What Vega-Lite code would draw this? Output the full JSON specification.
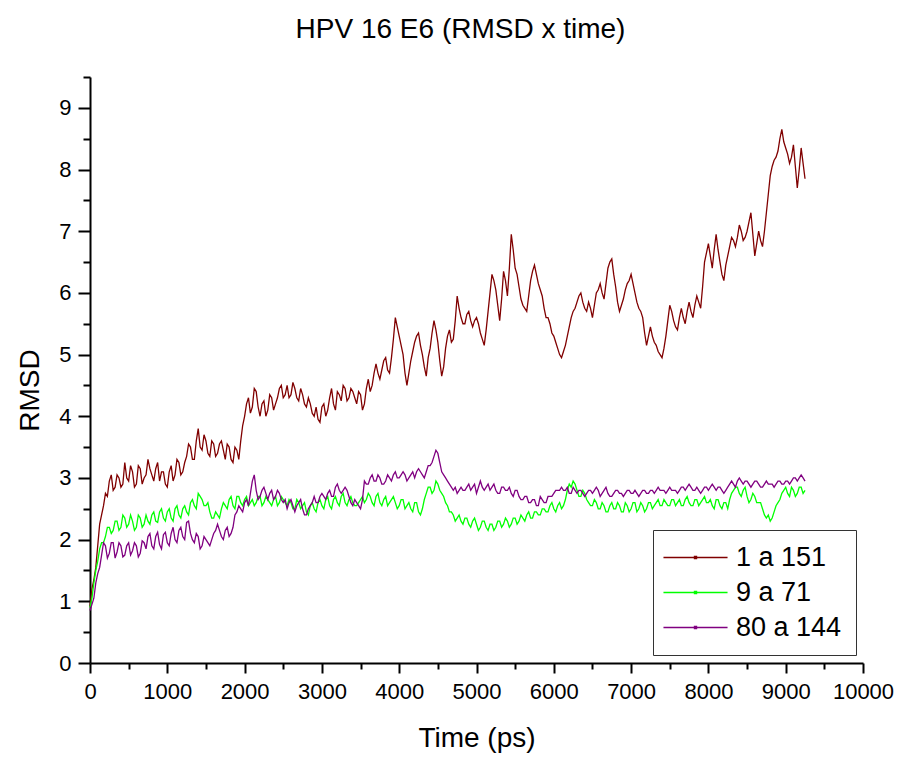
{
  "$schema": "https://vega.github.io/schema/vega-lite/v6.json",
  "autosize": {"type": "none"},
  "padding": {"left": 90, "top": 77, "right": 36, "bottom": 95},
  "width": 773,
  "height": 586,
  "background": "white",
  "title": {"text": "HPV 16 E6 (RMSD x time)", "font": "Liberation Sans", "fontSize": 28, "fontWeight": "normal", "color": "black", "baseline": "alphabetic", "offset": 0, "dx": -16},
  "config": {
    "view": {"stroke": null},
    "axis": {"grid": false, "domainColor": "black", "domainWidth": 2, "tickColor": "black", "tickWidth": 2, "labelFont": "Liberation Sans", "labelFontSize": 22, "labelColor": "black", "titleFont": "Liberation Sans", "titleFontSize": 28, "titleFontWeight": "normal", "titleColor": "black", "labelOverlap": false, "labelFlush": false}
  },
  "data": {"values": [
{"t":0,"a":0.92,"b":0.9,"c":0.85},
{"t":50,"a":1.35,"b":1.3,"c":1.05},
{"t":100,"a":1.9,"b":1.65,"c":1.45},
{"t":150,"a":2.4,"b":1.95,"c":1.75},
{"t":200,"a":2.75,"b":2.05,"c":1.9},
{"t":250,"a":2.95,"b":2.2,"c":1.78},
{"t":300,"a":2.8,"b":2.15,"c":1.95},
{"t":350,"a":3.05,"b":2.3,"c":1.8},
{"t":400,"a":2.85,"b":2.2,"c":1.9},
{"t":450,"a":3.25,"b":2.35,"c":1.75},
{"t":500,"a":2.95,"b":2.25,"c":1.95},
{"t":550,"a":3.1,"b":2.3,"c":1.82},
{"t":600,"a":2.9,"b":2.2,"c":1.9},
{"t":650,"a":3.15,"b":2.35,"c":1.78},
{"t":700,"a":3.0,"b":2.25,"c":1.95},
{"t":750,"a":3.3,"b":2.3,"c":2.05},
{"t":800,"a":3.05,"b":2.4,"c":1.9},
{"t":850,"a":3.15,"b":2.3,"c":2.05},
{"t":900,"a":2.95,"b":2.45,"c":1.92},
{"t":950,"a":3.1,"b":2.35,"c":2.08},
{"t":1000,"a":2.85,"b":2.45,"c":1.95},
{"t":1050,"a":3.2,"b":2.35,"c":2.1},
{"t":1100,"a":3.05,"b":2.5,"c":2.0},
{"t":1150,"a":3.25,"b":2.4,"c":2.15},
{"t":1200,"a":3.1,"b":2.5,"c":2.05},
{"t":1250,"a":3.35,"b":2.45,"c":2.28},
{"t":1300,"a":3.5,"b":2.6,"c":2.1},
{"t":1350,"a":3.3,"b":2.55,"c":1.95},
{"t":1400,"a":3.8,"b":2.75,"c":2.05},
{"t":1450,"a":3.45,"b":2.65,"c":1.9},
{"t":1500,"a":3.6,"b":2.55,"c":2.0},
{"t":1550,"a":3.35,"b":2.45,"c":1.9},
{"t":1600,"a":3.55,"b":2.35,"c":2.1},
{"t":1650,"a":3.4,"b":2.4,"c":2.25},
{"t":1700,"a":3.6,"b":2.5,"c":2.05},
{"t":1750,"a":3.3,"b":2.55,"c":2.15},
{"t":1800,"a":3.5,"b":2.65,"c":2.05},
{"t":1850,"a":3.25,"b":2.55,"c":2.2},
{"t":1900,"a":3.45,"b":2.7,"c":2.45},
{"t":1950,"a":3.6,"b":2.6,"c":2.5},
{"t":2000,"a":4.0,"b":2.65,"c":2.6},
{"t":2050,"a":4.3,"b":2.55,"c":2.55},
{"t":2100,"a":4.15,"b":2.65,"c":2.95},
{"t":2150,"a":4.4,"b":2.6,"c":2.8},
{"t":2200,"a":4.0,"b":2.7,"c":2.7},
{"t":2250,"a":4.25,"b":2.6,"c":2.85},
{"t":2300,"a":4.1,"b":2.65,"c":2.65},
{"t":2350,"a":4.3,"b":2.55,"c":2.8},
{"t":2400,"a":4.2,"b":2.7,"c":2.7},
{"t":2450,"a":4.45,"b":2.6,"c":2.75},
{"t":2500,"a":4.3,"b":2.65,"c":2.6},
{"t":2550,"a":4.5,"b":2.55,"c":2.5},
{"t":2600,"a":4.35,"b":2.6,"c":2.65},
{"t":2650,"a":4.45,"b":2.5,"c":2.45},
{"t":2700,"a":4.25,"b":2.6,"c":2.6},
{"t":2750,"a":4.35,"b":2.55,"c":2.5},
{"t":2800,"a":4.15,"b":2.45,"c":2.4},
{"t":2850,"a":4.2,"b":2.55,"c":2.55},
{"t":2900,"a":4.0,"b":2.5,"c":2.7},
{"t":2950,"a":3.95,"b":2.6,"c":2.6},
{"t":3000,"a":4.15,"b":2.55,"c":2.75},
{"t":3050,"a":4.0,"b":2.65,"c":2.65},
{"t":3100,"a":4.3,"b":2.55,"c":2.8},
{"t":3150,"a":4.2,"b":2.65,"c":2.7},
{"t":3200,"a":4.4,"b":2.6,"c":2.9},
{"t":3250,"a":4.25,"b":2.7,"c":2.75},
{"t":3300,"a":4.45,"b":2.6,"c":2.85},
{"t":3350,"a":4.3,"b":2.65,"c":2.7},
{"t":3400,"a":4.4,"b":2.6,"c":2.55},
{"t":3450,"a":4.2,"b":2.55,"c":2.6},
{"t":3500,"a":4.35,"b":2.65,"c":2.5},
{"t":3550,"a":4.2,"b":2.6,"c":2.95},
{"t":3600,"a":4.6,"b":2.75,"c":2.9},
{"t":3650,"a":4.5,"b":2.6,"c":3.05},
{"t":3700,"a":4.85,"b":2.7,"c":2.95},
{"t":3750,"a":4.6,"b":2.6,"c":3.0},
{"t":3800,"a":4.9,"b":2.65,"c":2.9},
{"t":3850,"a":4.75,"b":2.55,"c":3.05},
{"t":3900,"a":4.95,"b":2.65,"c":2.95},
{"t":3950,"a":5.6,"b":2.6,"c":3.1},
{"t":4000,"a":5.3,"b":2.55,"c":3.0},
{"t":4050,"a":5.0,"b":2.65,"c":3.1},
{"t":4100,"a":4.5,"b":2.55,"c":2.95},
{"t":4150,"a":4.9,"b":2.5,"c":3.05},
{"t":4200,"a":5.2,"b":2.6,"c":3.0},
{"t":4250,"a":5.35,"b":2.45,"c":3.15},
{"t":4300,"a":5.0,"b":2.5,"c":3.05},
{"t":4350,"a":4.65,"b":2.75,"c":3.1},
{"t":4400,"a":5.1,"b":2.85,"c":3.2},
{"t":4450,"a":5.55,"b":2.8,"c":3.35},
{"t":4500,"a":5.2,"b":2.9,"c":3.4},
{"t":4550,"a":4.65,"b":2.75,"c":3.1},
{"t":4600,"a":5.1,"b":2.6,"c":3.0},
{"t":4650,"a":5.4,"b":2.45,"c":2.9},
{"t":4700,"a":5.25,"b":2.4,"c":2.8},
{"t":4750,"a":5.95,"b":2.35,"c":2.75},
{"t":4800,"a":5.6,"b":2.3,"c":2.85},
{"t":4850,"a":5.5,"b":2.35,"c":2.8},
{"t":4900,"a":5.7,"b":2.25,"c":2.9},
{"t":4950,"a":5.45,"b":2.3,"c":2.85},
{"t":5000,"a":5.6,"b":2.25,"c":2.75},
{"t":5050,"a":5.35,"b":2.2,"c":2.95},
{"t":5100,"a":5.15,"b":2.3,"c":2.8},
{"t":5150,"a":5.7,"b":2.15,"c":2.9},
{"t":5200,"a":6.3,"b":2.25,"c":2.85},
{"t":5250,"a":6.05,"b":2.2,"c":2.8},
{"t":5300,"a":5.55,"b":2.3,"c":2.75},
{"t":5350,"a":6.35,"b":2.25,"c":2.85},
{"t":5400,"a":5.95,"b":2.3,"c":2.8},
{"t":5450,"a":6.95,"b":2.25,"c":2.75},
{"t":5500,"a":6.4,"b":2.35,"c":2.8},
{"t":5550,"a":6.1,"b":2.3,"c":2.7},
{"t":5600,"a":5.8,"b":2.35,"c":2.65},
{"t":5650,"a":5.7,"b":2.4,"c":2.7},
{"t":5700,"a":6.2,"b":2.35,"c":2.6},
{"t":5750,"a":6.45,"b":2.45,"c":2.65},
{"t":5800,"a":6.15,"b":2.4,"c":2.55},
{"t":5850,"a":5.95,"b":2.5,"c":2.65},
{"t":5900,"a":5.6,"b":2.45,"c":2.6},
{"t":5950,"a":5.5,"b":2.55,"c":2.7},
{"t":6000,"a":5.3,"b":2.5,"c":2.75},
{"t":6050,"a":5.1,"b":2.55,"c":2.8},
{"t":6100,"a":4.95,"b":2.5,"c":2.85},
{"t":6150,"a":5.15,"b":2.65,"c":2.8},
{"t":6200,"a":5.45,"b":2.9,"c":2.75},
{"t":6250,"a":5.7,"b":2.95,"c":2.85},
{"t":6300,"a":5.85,"b":2.8,"c":2.75},
{"t":6350,"a":6.0,"b":2.7,"c":2.8},
{"t":6400,"a":5.75,"b":2.75,"c":2.7},
{"t":6450,"a":5.85,"b":2.6,"c":2.8},
{"t":6500,"a":5.6,"b":2.55,"c":2.75},
{"t":6550,"a":6.0,"b":2.6,"c":2.85},
{"t":6600,"a":6.15,"b":2.5,"c":2.7},
{"t":6650,"a":5.9,"b":2.55,"c":2.8},
{"t":6700,"a":6.4,"b":2.45,"c":2.75},
{"t":6750,"a":6.55,"b":2.6,"c":2.7},
{"t":6800,"a":6.1,"b":2.5,"c":2.8},
{"t":6850,"a":5.7,"b":2.55,"c":2.75},
{"t":6900,"a":5.9,"b":2.45,"c":2.7},
{"t":6950,"a":6.15,"b":2.55,"c":2.8},
{"t":7000,"a":6.3,"b":2.5,"c":2.75},
{"t":7050,"a":6.0,"b":2.6,"c":2.8},
{"t":7100,"a":5.75,"b":2.5,"c":2.7},
{"t":7150,"a":5.6,"b":2.55,"c":2.8},
{"t":7200,"a":5.15,"b":2.5,"c":2.75},
{"t":7250,"a":5.45,"b":2.6,"c":2.8},
{"t":7300,"a":5.2,"b":2.55,"c":2.75},
{"t":7350,"a":5.05,"b":2.65,"c":2.85},
{"t":7400,"a":4.95,"b":2.55,"c":2.8},
{"t":7450,"a":5.3,"b":2.6,"c":2.75},
{"t":7500,"a":5.8,"b":2.55,"c":2.85},
{"t":7550,"a":5.55,"b":2.65,"c":2.8},
{"t":7600,"a":5.4,"b":2.6,"c":2.75},
{"t":7650,"a":5.75,"b":2.55,"c":2.85},
{"t":7700,"a":5.5,"b":2.65,"c":2.8},
{"t":7750,"a":5.85,"b":2.6,"c":2.9},
{"t":7800,"a":5.6,"b":2.55,"c":2.8},
{"t":7850,"a":5.95,"b":2.65,"c":2.85},
{"t":7900,"a":5.75,"b":2.6,"c":2.75},
{"t":7950,"a":6.5,"b":2.7,"c":2.85},
{"t":8000,"a":6.8,"b":2.6,"c":2.8},
{"t":8050,"a":6.4,"b":2.55,"c":2.9},
{"t":8100,"a":6.95,"b":2.65,"c":2.8},
{"t":8150,"a":6.5,"b":2.55,"c":2.85},
{"t":8200,"a":6.2,"b":2.6,"c":2.75},
{"t":8250,"a":6.6,"b":2.5,"c":2.85},
{"t":8300,"a":6.9,"b":2.75,"c":2.95},
{"t":8350,"a":6.75,"b":2.85,"c":2.85},
{"t":8400,"a":7.1,"b":2.75,"c":3.0},
{"t":8450,"a":6.85,"b":2.8,"c":2.9},
{"t":8500,"a":7.0,"b":2.7,"c":2.95},
{"t":8550,"a":7.3,"b":2.65,"c":2.85},
{"t":8600,"a":6.6,"b":2.7,"c":2.95},
{"t":8650,"a":7.0,"b":2.6,"c":2.9},
{"t":8700,"a":6.75,"b":2.5,"c":2.85},
{"t":8750,"a":7.3,"b":2.35,"c":2.95},
{"t":8800,"a":7.9,"b":2.3,"c":2.9},
{"t":8850,"a":8.15,"b":2.45,"c":2.85},
{"t":8900,"a":8.3,"b":2.6,"c":2.95},
{"t":8950,"a":8.65,"b":2.75,"c":2.9},
{"t":9000,"a":8.35,"b":2.85,"c":2.95},
{"t":9050,"a":8.1,"b":2.7,"c":2.9},
{"t":9100,"a":8.4,"b":2.8,"c":3.0},
{"t":9150,"a":7.7,"b":2.75,"c":2.95},
{"t":9200,"a":8.35,"b":2.85,"c":3.05},
{"t":9250,"a":7.85,"b":2.8,"c":2.95},
{"t":25,"a":1.2,"b":1.05,"c":0.95},
{"t":75,"a":1.55,"b":1.5,"c":1.3},
{"t":125,"a":2.25,"b":1.85,"c":1.55},
{"t":175,"a":2.55,"b":1.95,"c":1.95},
{"t":225,"a":2.7,"b":2.2,"c":1.7},
{"t":275,"a":3.05,"b":2.1,"c":1.95},
{"t":325,"a":2.85,"b":2.3,"c":1.7},
{"t":375,"a":3.0,"b":2.15,"c":1.95},
{"t":425,"a":2.9,"b":2.4,"c":1.72},
{"t":475,"a":3.0,"b":2.2,"c":1.9},
{"t":525,"a":3.2,"b":2.4,"c":1.75},
{"t":575,"a":2.85,"b":2.15,"c":1.95},
{"t":625,"a":3.2,"b":2.4,"c":1.72},
{"t":675,"a":2.9,"b":2.2,"c":1.98},
{"t":725,"a":3.05,"b":2.4,"c":1.85},
{"t":775,"a":3.15,"b":2.25,"c":2.1},
{"t":825,"a":2.95,"b":2.45,"c":1.85},
{"t":875,"a":3.25,"b":2.28,"c":2.12},
{"t":925,"a":3.1,"b":2.5,"c":1.85},
{"t":975,"a":2.9,"b":2.3,"c":2.12},
{"t":1025,"a":3.1,"b":2.5,"c":1.9},
{"t":1075,"a":2.95,"b":2.3,"c":2.2},
{"t":1125,"a":3.3,"b":2.55,"c":1.95},
{"t":1175,"a":3.05,"b":2.35,"c":2.2},
{"t":1225,"a":3.25,"b":2.55,"c":2.0},
{"t":1275,"a":3.55,"b":2.4,"c":2.3},
{"t":1325,"a":3.3,"b":2.65,"c":2.0},
{"t":1375,"a":3.6,"b":2.5,"c":2.1},
{"t":1425,"a":3.5,"b":2.7,"c":1.85},
{"t":1475,"a":3.7,"b":2.55,"c":2.05},
{"t":1525,"a":3.4,"b":2.6,"c":1.95},
{"t":1575,"a":3.6,"b":2.35,"c":2.0},
{"t":1625,"a":3.35,"b":2.45,"c":2.15},
{"t":1675,"a":3.55,"b":2.35,"c":2.15},
{"t":1725,"a":3.45,"b":2.6,"c":2.0},
{"t":1775,"a":3.55,"b":2.5,"c":2.2},
{"t":1825,"a":3.3,"b":2.7,"c":2.1},
{"t":1875,"a":3.5,"b":2.5,"c":2.4},
{"t":1925,"a":3.3,"b":2.7,"c":2.55},
{"t":1975,"a":3.85,"b":2.55,"c":2.45},
{"t":2025,"a":4.2,"b":2.7,"c":2.65},
{"t":2075,"a":4.05,"b":2.6,"c":2.75},
{"t":2125,"a":4.45,"b":2.55,"c":3.05},
{"t":2175,"a":4.15,"b":2.7,"c":2.65},
{"t":2225,"a":4.2,"b":2.55,"c":2.8},
{"t":2275,"a":4.0,"b":2.7,"c":2.75},
{"t":2325,"a":4.35,"b":2.6,"c":2.75},
{"t":2375,"a":4.1,"b":2.65,"c":2.65},
{"t":2425,"a":4.3,"b":2.55,"c":2.8},
{"t":2475,"a":4.5,"b":2.7,"c":2.65},
{"t":2525,"a":4.35,"b":2.6,"c":2.65},
{"t":2575,"a":4.3,"b":2.65,"c":2.6},
{"t":2625,"a":4.55,"b":2.5,"c":2.55},
{"t":2675,"a":4.3,"b":2.65,"c":2.55},
{"t":2725,"a":4.45,"b":2.5,"c":2.65},
{"t":2775,"a":4.2,"b":2.6,"c":2.4},
{"t":2825,"a":4.3,"b":2.4,"c":2.5},
{"t":2875,"a":4.05,"b":2.6,"c":2.6},
{"t":2925,"a":4.15,"b":2.45,"c":2.6},
{"t":2975,"a":3.9,"b":2.65,"c":2.7},
{"t":3025,"a":4.2,"b":2.5,"c":2.7},
{"t":3075,"a":4.1,"b":2.7,"c":2.75},
{"t":3125,"a":4.45,"b":2.5,"c":2.7},
{"t":3175,"a":4.1,"b":2.7,"c":2.85},
{"t":3225,"a":4.35,"b":2.55,"c":2.8},
{"t":3275,"a":4.5,"b":2.75,"c":2.8},
{"t":3325,"a":4.25,"b":2.55,"c":2.8},
{"t":3375,"a":4.45,"b":2.7,"c":2.6},
{"t":3425,"a":4.3,"b":2.55,"c":2.65},
{"t":3475,"a":4.4,"b":2.6,"c":2.55},
{"t":3525,"a":4.1,"b":2.7,"c":2.65},
{"t":3575,"a":4.45,"b":2.65,"c":2.9},
{"t":3625,"a":4.4,"b":2.7,"c":3.0},
{"t":3675,"a":4.7,"b":2.55,"c":2.95},
{"t":3725,"a":4.7,"b":2.75,"c":3.05},
{"t":3775,"a":4.75,"b":2.55,"c":2.9},
{"t":3825,"a":4.95,"b":2.7,"c":2.95},
{"t":3875,"a":4.7,"b":2.6,"c":3.0},
{"t":3925,"a":5.25,"b":2.7,"c":3.05},
{"t":3975,"a":5.45,"b":2.5,"c":3.0},
{"t":4025,"a":5.15,"b":2.65,"c":3.05},
{"t":4075,"a":4.7,"b":2.5,"c":3.05},
{"t":4125,"a":4.7,"b":2.6,"c":3.0},
{"t":4175,"a":5.05,"b":2.45,"c":3.1},
{"t":4225,"a":5.3,"b":2.6,"c":3.1},
{"t":4275,"a":5.15,"b":2.4,"c":3.1},
{"t":4325,"a":4.8,"b":2.65,"c":3.0},
{"t":4375,"a":4.95,"b":2.85,"c":3.2},
{"t":4425,"a":5.35,"b":2.75,"c":3.25},
{"t":4475,"a":5.4,"b":2.95,"c":3.45},
{"t":4525,"a":4.9,"b":2.8,"c":3.25},
{"t":4575,"a":4.8,"b":2.7,"c":3.05},
{"t":4625,"a":5.3,"b":2.55,"c":2.95},
{"t":4675,"a":5.2,"b":2.45,"c":2.85},
{"t":4725,"a":5.55,"b":2.3,"c":2.85},
{"t":4775,"a":5.75,"b":2.4,"c":2.8},
{"t":4825,"a":5.5,"b":2.25,"c":2.8},
{"t":4875,"a":5.65,"b":2.35,"c":2.85},
{"t":4925,"a":5.55,"b":2.2,"c":2.8},
{"t":4975,"a":5.55,"b":2.35,"c":2.9},
{"t":5025,"a":5.5,"b":2.15,"c":2.85},
{"t":5075,"a":5.25,"b":2.3,"c":2.85},
{"t":5125,"a":5.4,"b":2.2,"c":2.85},
{"t":5175,"a":6.0,"b":2.25,"c":2.8},
{"t":5225,"a":6.2,"b":2.15,"c":2.9},
{"t":5275,"a":5.8,"b":2.3,"c":2.75},
{"t":5325,"a":5.9,"b":2.2,"c":2.85},
{"t":5375,"a":6.2,"b":2.35,"c":2.8},
{"t":5425,"a":6.4,"b":2.2,"c":2.85},
{"t":5475,"a":6.7,"b":2.35,"c":2.7},
{"t":5525,"a":6.3,"b":2.25,"c":2.8},
{"t":5575,"a":5.9,"b":2.4,"c":2.65},
{"t":5625,"a":5.75,"b":2.3,"c":2.7},
{"t":5675,"a":5.95,"b":2.45,"c":2.6},
{"t":5725,"a":6.35,"b":2.35,"c":2.65},
{"t":5775,"a":6.3,"b":2.45,"c":2.55},
{"t":5825,"a":6.05,"b":2.4,"c":2.7},
{"t":5875,"a":5.75,"b":2.5,"c":2.6},
{"t":5925,"a":5.6,"b":2.45,"c":2.7},
{"t":5975,"a":5.35,"b":2.6,"c":2.7},
{"t":6025,"a":5.2,"b":2.45,"c":2.8},
{"t":6075,"a":5.0,"b":2.6,"c":2.8},
{"t":6125,"a":5.05,"b":2.55,"c":2.8},
{"t":6175,"a":5.3,"b":2.8,"c":2.85},
{"t":6225,"a":5.6,"b":2.85,"c":2.75},
{"t":6275,"a":5.75,"b":2.9,"c":2.8},
{"t":6325,"a":5.95,"b":2.7,"c":2.8},
{"t":6375,"a":5.85,"b":2.8,"c":2.75},
{"t":6425,"a":5.7,"b":2.65,"c":2.75},
{"t":6475,"a":5.75,"b":2.55,"c":2.8},
{"t":6525,"a":5.8,"b":2.65,"c":2.8},
{"t":6575,"a":6.05,"b":2.5,"c":2.8},
{"t":6625,"a":6.0,"b":2.6,"c":2.75},
{"t":6675,"a":6.15,"b":2.45,"c":2.85},
{"t":6725,"a":6.5,"b":2.55,"c":2.7},
{"t":6775,"a":6.3,"b":2.5,"c":2.75},
{"t":6825,"a":5.85,"b":2.6,"c":2.8},
{"t":6875,"a":5.8,"b":2.45,"c":2.75},
{"t":6925,"a":6.05,"b":2.6,"c":2.75},
{"t":6975,"a":6.2,"b":2.45,"c":2.8},
{"t":7025,"a":6.15,"b":2.6,"c":2.75},
{"t":7075,"a":5.85,"b":2.45,"c":2.75},
{"t":7125,"a":5.7,"b":2.6,"c":2.75},
{"t":7175,"a":5.35,"b":2.45,"c":2.8},
{"t":7225,"a":5.3,"b":2.6,"c":2.75},
{"t":7275,"a":5.3,"b":2.5,"c":2.8},
{"t":7325,"a":5.15,"b":2.6,"c":2.8},
{"t":7375,"a":5.0,"b":2.55,"c":2.8},
{"t":7425,"a":5.1,"b":2.65,"c":2.8},
{"t":7475,"a":5.55,"b":2.55,"c":2.8},
{"t":7525,"a":5.7,"b":2.65,"c":2.8},
{"t":7575,"a":5.45,"b":2.55,"c":2.8},
{"t":7625,"a":5.6,"b":2.65,"c":2.8},
{"t":7675,"a":5.6,"b":2.55,"c":2.85},
{"t":7725,"a":5.7,"b":2.7,"c":2.85},
{"t":7775,"a":5.7,"b":2.55,"c":2.85},
{"t":7825,"a":5.8,"b":2.65,"c":2.8},
{"t":7875,"a":5.85,"b":2.55,"c":2.8},
{"t":7925,"a":6.1,"b":2.65,"c":2.8},
{"t":7975,"a":6.65,"b":2.6,"c":2.85},
{"t":8025,"a":6.6,"b":2.65,"c":2.85},
{"t":8075,"a":6.7,"b":2.5,"c":2.85},
{"t":8125,"a":6.7,"b":2.65,"c":2.85},
{"t":8175,"a":6.3,"b":2.5,"c":2.8},
{"t":8225,"a":6.45,"b":2.6,"c":2.8},
{"t":8275,"a":6.75,"b":2.65,"c":2.9},
{"t":8325,"a":6.85,"b":2.8,"c":2.9},
{"t":8375,"a":6.9,"b":2.85,"c":2.95},
{"t":8425,"a":7.0,"b":2.7,"c":2.95},
{"t":8475,"a":6.9,"b":2.85,"c":2.95},
{"t":8525,"a":7.15,"b":2.6,"c":2.9},
{"t":8575,"a":6.95,"b":2.75,"c":2.9},
{"t":8625,"a":6.8,"b":2.6,"c":2.95},
{"t":8675,"a":6.85,"b":2.6,"c":2.85},
{"t":8725,"a":7.0,"b":2.4,"c":2.9},
{"t":8775,"a":7.6,"b":2.4,"c":2.9},
{"t":8825,"a":8.05,"b":2.35,"c":2.9},
{"t":8875,"a":8.2,"b":2.55,"c":2.9},
{"t":8925,"a":8.5,"b":2.65,"c":2.95},
{"t":8975,"a":8.45,"b":2.8,"c":2.9},
{"t":9025,"a":8.25,"b":2.75,"c":2.95},
{"t":9075,"a":8.2,"b":2.85,"c":2.95},
{"t":9125,"a":8.05,"b":2.7,"c":3.0},
{"t":9175,"a":8.0,"b":2.85,"c":3.0},
{"t":9225,"a":8.1,"b":2.75,"c":3.0}
  ]},
  "transform": [
    {"fold": ["a", "b", "c"], "as": ["key", "rmsd"]},
    {"lookup": "key", "from": {"data": {"values": [{"key": "a", "series": "1 a 151"}, {"key": "b", "series": "9 a 71"}, {"key": "c", "series": "80 a 144"}]}, "key": "key", "fields": ["series"]}}
  ],
  "mark": {"type": "line", "strokeWidth": 1.3},
  "encoding": {
    "x": {"field": "t", "type": "quantitative", "title": "Time (ps)",
      "scale": {"domain": [0, 10000], "nice": false, "zero": false},
      "axis": {"values": [0,500,1000,1500,2000,2500,3000,3500,4000,4500,5000,5500,6000,6500,7000,7500,8000,8500,9000,9500,10000],
        "format": "d", "labelExpr": "datum.value % 1000 === 0 ? datum.label : ''",
        "tickSize": {"condition": {"test": "datum.value % 1000 === 0", "value": 10}, "value": 6},
        "labelPadding": 8, "titlePadding": 22}},
    "y": {"field": "rmsd", "type": "quantitative", "title": "RMSD",
      "scale": {"domain": [0, 9.5], "nice": false},
      "axis": {"values": [0,0.5,1,1.5,2,2.5,3,3.5,4,4.5,5,5.5,6,6.5,7,7.5,8,8.5,9,9.5],
        "labelExpr": "datum.value % 1 === 0 ? format(datum.value, 'd') : ''",
        "tickSize": {"condition": {"test": "datum.value % 1 === 0", "value": 12}, "value": 7},
        "labelPadding": 7, "titleX": -46, "titleY": 313}},
    "color": {"field": "series", "type": "nominal", "sort": ["1 a 151", "9 a 71", "80 a 144"],
      "scale": {"domain": ["1 a 151", "9 a 71", "80 a 144"], "range": ["#800000", "#00ff00", "#800080"]},
      "legend": {"orient": "none", "legendX": 563, "legendY": 453, "title": null,
        "strokeColor": "#333333", "fillColor": "white", "padding": 14,
        "labelFont": "Liberation Sans", "labelFontSize": 27, "labelColor": "black",
        "symbolType": "M-2.67,0H2.67M-0.08,-0.08H0.08V0.08H-0.08Z", "symbolSize": 576, "symbolStrokeWidth": 1.5,
        "symbolOffset": 15, "labelOffset": 27, "rowPadding": 7}}
  }
}
